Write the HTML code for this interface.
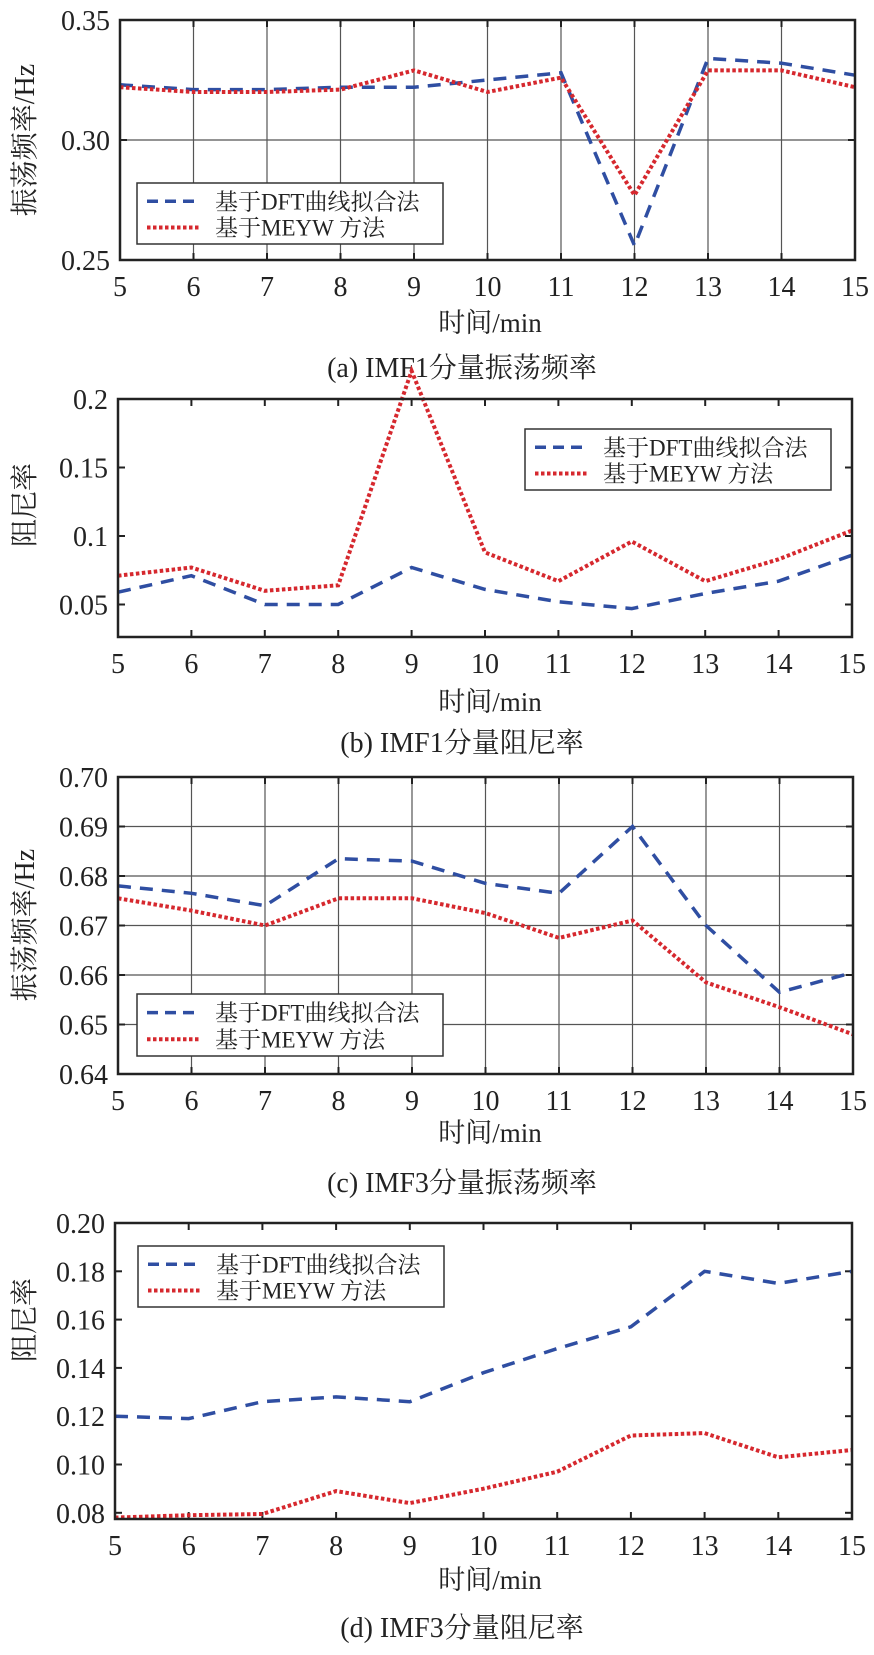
<!DOCTYPE html>
<html><head><meta charset="utf-8"><style>
html,body{margin:0;padding:0;background:#fff;}
svg text{font-family:"Liberation Serif","Noto Serif CJK SC",serif;fill:#222;}
</style></head><body>
<svg id="s" width="874" height="1650" xmlns="http://www.w3.org/2000/svg"></svg>
<script>
const S=document.getElementById('s');let h='';
function panel(o){
 const X=i=>o.x0+(o.x1-o.x0)*(i-5)/10, Y=v=>o.y0+(o.vtop-v)*o.k;
 // grid
 if(o.grid){for(let i=6;i<15;i++)h+=`<line x1="${X(i)}" y1="${o.y0}" x2="${X(i)}" y2="${o.y1}" stroke="#555" stroke-width="1.2"/>`;
  o.yt.forEach(t=>{const y=Y(t[0]);if(y>o.y0+2&&y<o.y1-2)h+=`<line x1="${o.x0}" y1="${y}" x2="${o.x1}" y2="${y}" stroke="#555" stroke-width="1.2"/>`;});}
 // ticks
 for(let i=5;i<=15;i++){h+=`<line x1="${X(i)}" y1="${o.y1}" x2="${X(i)}" y2="${o.y1-7}" stroke="#222" stroke-width="2"/><line x1="${X(i)}" y1="${o.y0}" x2="${X(i)}" y2="${o.y0+7}" stroke="#222" stroke-width="2"/>`;
  h+=`<text x="${X(i)}" y="${o.y1+36}" font-size="28" text-anchor="middle">${i}</text>`;}
 o.yt.forEach(t=>{const y=Y(t[0]);h+=`<line x1="${o.x0}" y1="${y}" x2="${o.x0+7}" y2="${y}" stroke="#222" stroke-width="2"/><line x1="${o.x1}" y1="${y}" x2="${o.x1-7}" y2="${y}" stroke="#222" stroke-width="2"/>`;
  h+=`<text x="${o.x0-10}" y="${y+10}" font-size="28" text-anchor="end">${t[1]}</text>`;});
 // series
 const pts=a=>a.map((v,i)=>X(i+5).toFixed(1)+','+Y(v).toFixed(1)).join(' ');
 h+=`<polyline points="${pts(o.b)}" fill="none" stroke="#2f4ea2" stroke-width="3.5" stroke-dasharray="13 9"/>`;
 h+=`<polyline points="${pts(o.r)}" fill="none" stroke="#d6282e" stroke-width="4" stroke-dasharray="3.5 2.5"/>`;
 h+=`<rect x="${o.x0}" y="${o.y0}" width="${o.x1-o.x0}" height="${o.y1-o.y0}" fill="none" stroke="#222" stroke-width="2.5"/>`;
 // legend
 const L=o.leg;h+=`<rect x="${L[0]}" y="${L[1]}" width="${L[2]-L[0]}" height="${L[3]-L[1]}" fill="#fff" stroke="#333" stroke-width="1.5"/>`;
 const ly1=L[1]+(L[3]-L[1])*0.3, ly2=L[1]+(L[3]-L[1])*0.73;
 h+=`<line x1="${L[0]+10}" y1="${ly1}" x2="${L[0]+62}" y2="${ly1}" stroke="#2f4ea2" stroke-width="3.5" stroke-dasharray="11 7"/>`;
 h+=`<line x1="${L[0]+10}" y1="${ly2}" x2="${L[0]+62}" y2="${ly2}" stroke="#d6282e" stroke-width="4" stroke-dasharray="3.5 2.5"/>`;
 h+=`<text x="${L[0]+78}" y="${ly1+8}" font-size="23">基于DFT曲线拟合法</text><text x="${L[0]+78}" y="${ly2+8}" font-size="23">基于MEYW 方法</text>`;
 // labels
 h+=`<text x="${o.xl[0]}" y="${o.xl[1]+9}" font-size="27" text-anchor="middle">时间/min</text>`;
 h+=`<text x="${o.cap[0]}" y="${o.cap[1]+10}" font-size="28" text-anchor="middle">${o.cap[2]}</text>`;
 h+=`<text transform="translate(34,${o.yl[0]}) rotate(-90)" font-size="28" text-anchor="middle">${o.yl[1]}</text>`;
}
panel({x0:120,x1:855,y0:20,y1:260,vtop:0.35,k:2400,grid:1,
 yt:[[0.35,'0.35'],[0.30,'0.30'],[0.25,'0.25']],
 b:[0.323,0.321,0.321,0.322,0.322,0.325,0.328,0.256,0.334,0.332,0.327],
 r:[0.322,0.320,0.320,0.321,0.329,0.320,0.326,0.277,0.329,0.329,0.322],
 leg:[137,183,443,244],xl:[490,323],cap:[462,367,'(a) IMF1分量振荡频率'],yl:[140,'振荡频率/Hz']});
panel({x0:118,x1:852,y0:399,y1:637,vtop:0.2,k:1370,grid:0,
 yt:[[0.2,'0.2'],[0.15,'0.15'],[0.1,'0.1'],[0.05,'0.05']],
 b:[0.059,0.071,0.050,0.050,0.077,0.061,0.052,0.047,0.058,0.067,0.086],
 r:[0.071,0.077,0.060,0.064,0.2205,0.088,0.067,0.096,0.067,0.083,0.104],
 leg:[525,429,831,490],xl:[490,702],cap:[462,742,'(b) IMF1分量阻尼率'],yl:[505,'阻尼率']});
panel({x0:118,x1:853,y0:777,y1:1074,vtop:0.70,k:4950,grid:1,
 yt:[[0.70,'0.70'],[0.69,'0.69'],[0.68,'0.68'],[0.67,'0.67'],[0.66,'0.66'],[0.65,'0.65'],[0.64,'0.64']],
 b:[0.678,0.6765,0.674,0.6835,0.683,0.6785,0.6765,0.690,0.670,0.6565,0.6605],
 r:[0.6755,0.673,0.670,0.6755,0.6755,0.6725,0.6675,0.671,0.6585,0.6535,0.648],
 leg:[137,994,443,1056],xl:[490,1133],cap:[462,1182,'(c) IMF3分量振荡频率'],yl:[925,'振荡频率/Hz']});
panel({x0:115,x1:852,y0:1223,y1:1519,vtop:0.20,k:2415,grid:0,
 yt:[[0.20,'0.20'],[0.18,'0.18'],[0.16,'0.16'],[0.14,'0.14'],[0.12,'0.12'],[0.10,'0.10'],[0.08,'0.08']],
 b:[0.120,0.119,0.126,0.128,0.126,0.138,0.148,0.157,0.180,0.175,0.180],
 r:[0.078,0.079,0.0795,0.089,0.084,0.090,0.097,0.112,0.113,0.103,0.106],
 leg:[138,1246,444,1307],xl:[490,1580],cap:[462,1627,'(d) IMF3分量阻尼率'],yl:[1320,'阻尼率']});
S.innerHTML=h;
</script>
</body></html>
